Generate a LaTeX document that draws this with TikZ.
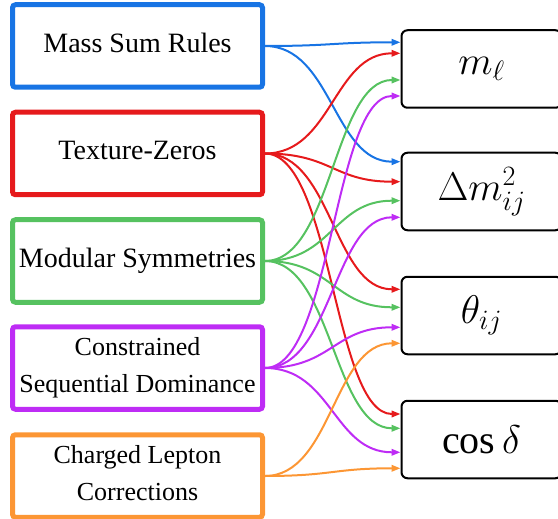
\documentclass[tikz,border=0pt]{standalone}
\usepackage{fix-cm}
\usepackage{fontspec}
\setmainfont{Liberation Serif}
\usepackage{tikz}
\usetikzlibrary{arrows.meta}
\definecolor{msrblue}{RGB}{24,116,228}
\definecolor{tzred}{RGB}{230,26,28}
\definecolor{modgreen}{RGB}{86,194,96}
\definecolor{csdpurple}{RGB}{190,44,245}
\definecolor{clorange}{RGB}{252,150,52}

\begin{document}
\begin{tikzpicture}[x=1pt, y=-1pt]
  \tikzstyle{srcbox}=[draw, line width=5pt, fill=white, rounded corners=3pt, minimum width=250pt, minimum height=82.5pt, inner sep=0pt, align=center, text=black];
  \tikzstyle{onetext}=[font=\fontsize{28}{34}\selectfont, text height=19.6pt, text depth=6.7pt];
  \tikzstyle{twotext}=[font=\fontsize{26}{37}\selectfont];
  \tikzstyle{obsbox}=[draw=black, line width=2pt, fill=white, rounded corners=6pt, minimum width=160pt, minimum height=77.5pt, inner sep=0pt, font=\fontsize{40}{48}\selectfont];
  \tikzstyle{myconn}=[line width=2pt, line cap=round, -{Triangle[length=9pt,width=6.5pt]}];
  %
  \useasboundingbox (0,0) rectangle (558,519);
  %
  % approaches
  \node[srcbox, onetext, draw=msrblue] (msr) at (137.5, 46) {Mass Sum Rules};
  \node[srcbox, onetext, draw=tzred] (tz) at (137.5, 153.5) {Texture-Zeros};
  \node[srcbox, onetext, draw=modgreen] (mod) at (137.5, 261) {Modular Symmetries};
  \node[srcbox, twotext, draw=csdpurple] (csd) at (137.5, 368) {Constrained\\Sequential Dominance};
  \node[srcbox, twotext, draw=clorange] (clc) at (137.5, 476) {Charged Lepton\\Corrections\vphantom{p}};
  %
  % observables
  \node[obsbox] (ml) at (481.5, 69) {$m_\ell$};
  \node[obsbox] (dm) at (481.5, 191.5) {$\Delta m_{ij}^2$};
  \node[obsbox] (th) at (481.5, 315.5) {$\theta_{ij}$};
  \node[obsbox] (cd) at (481.5, 439.5) {$\cos\delta$};
  %
  % mass sum rules
  \draw[myconn, msrblue] (msr.east) .. controls +(67,0) and +(-67,0) .. ([yshift=26.7pt]ml.west);
  \draw[myconn, msrblue] (msr.east) .. controls +(67,0) and +(-67,0) .. ([yshift=29.8pt]dm.west);
  %
  % texture zeros
  \draw[myconn, tzred] (tz.east) .. controls +(67,0) and +(-67,0) .. ([yshift=15.7pt]ml.west);
  \draw[myconn, tzred] (tz.east) .. controls +(67,0) and +(-67,0) .. ([yshift=9.8pt]dm.west);
  \draw[myconn, tzred] (tz.east) .. controls +(67,0) and +(-67,0) .. ([yshift=26.2pt]th.west);
  \draw[myconn, tzred] (tz.east) .. controls +(67,0) and +(-67,0) .. ([yshift=25.5pt]cd.west);
  %
  % modular symmetries
  \draw[myconn, modgreen] (mod.east) .. controls +(67,0) and +(-67,0) .. ([yshift=-11pt]ml.west);
  \draw[myconn, modgreen] (mod.east) .. controls +(67,0) and +(-67,0) .. ([yshift=-9.2pt]dm.west);
  \draw[myconn, modgreen] (mod.east) .. controls +(67,0) and +(-67,0) .. ([yshift=8.2pt]th.west);
  \draw[myconn, modgreen] (mod.east) .. controls +(67,0) and +(-67,0) .. ([yshift=11.2pt]cd.west);
  %
  % constrained sequential dominance
  \draw[myconn, csdpurple] (csd.east) .. controls +(67,0) and +(-67,0) .. ([yshift=-27pt]ml.west);
  \draw[myconn, csdpurple] (csd.east) .. controls +(67,0) and +(-67,0) .. ([yshift=-25.8pt]dm.west);
  \draw[myconn, csdpurple] (csd.east) .. controls +(67,0) and +(-67,0) .. ([yshift=-11.8pt]th.west);
  \draw[myconn, csdpurple] (csd.east) .. controls +(67,0) and +(-67,0) .. ([yshift=-12.8pt]cd.west);
  %
  % charged lepton corrections
  \draw[myconn, clorange] (clc.east) .. controls +(67,0) and +(-67,0) .. ([yshift=-27.8pt]th.west);
  \draw[myconn, clorange] (clc.east) .. controls +(67,0) and +(-67,0) .. ([yshift=-28.8pt]cd.west);
\end{tikzpicture}
\end{document}
